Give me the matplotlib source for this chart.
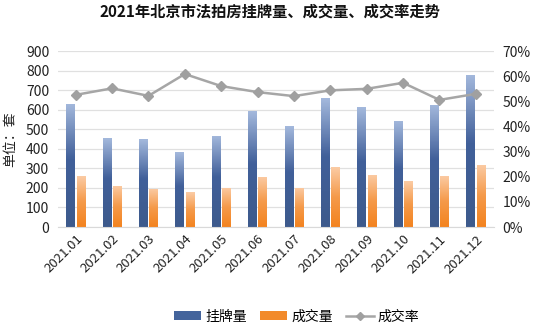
import numpy as np
import matplotlib.pyplot as plt
from matplotlib.colors import LinearSegmentedColormap
from matplotlib.patches import Patch
from matplotlib.lines import Line2D

plt.rcParams['font.family'] = ['Noto Sans CJK SC', 'DejaVu Sans']

months = ['2021.01', '2021.02', '2021.03', '2021.04', '2021.05', '2021.06',
          '2021.07', '2021.08', '2021.09', '2021.10', '2021.11', '2021.12']
listed = [630, 455, 450, 383, 467, 592, 515, 660, 612, 543, 627, 780]
sold = [260, 210, 197, 178, 200, 257, 200, 307, 268, 234, 262, 320]
rate = [0.526, 0.552, 0.522, 0.609, 0.561, 0.537, 0.521, 0.544, 0.550, 0.574, 0.506, 0.530]

blue_cm = LinearSegmentedColormap.from_list('b', [(0, '#3d5a8c'), (0.55, '#41609a'), (1, '#a3b8dc')])
orange_cm = LinearSegmentedColormap.from_list('o', [(0, '#f3831f'), (0.5, '#f59a4a'), (1, '#fbcba4')])

fig = plt.figure(figsize=(5.39, 3.30), dpi=100)
ax = fig.add_axes([0.1067, 0.312, 0.8098, 0.533])
ax2 = ax.twinx()

x = np.arange(len(months))
w = 0.235
grad = np.linspace(0, 1, 100).reshape(-1, 1)


def gradient_bars(xs, vals, cmap):
    bars = ax.bar(xs, vals, w, color='none', edgecolor='none', zorder=2)
    for b in bars:
        x0, y0 = b.get_x(), b.get_y()
        im = ax.imshow(grad, cmap=cmap, origin='lower', aspect='auto',
                       extent=[x0, x0 + b.get_width(), y0, y0 + b.get_height()], zorder=2)
        im.set_clip_path(b)


gradient_bars(x - 0.14, listed, blue_cm)
gradient_bars(x + 0.14, sold, orange_cm)

ax.set_xlim(-0.5, len(months) - 0.5)
ax.set_ylim(0, 900)
ax.set_yticks(range(0, 901, 100))
ax.grid(axis='y', color='#e0e0e0', linewidth=0.9, zorder=0)
ax.set_axisbelow(True)
ax.set_xticks(x)
ax.set_xticklabels(months, rotation=45, ha='right', rotation_mode='anchor', fontsize=9.5, color='#222222')
ax.tick_params(axis='y', labelsize=10, colors='#222222', length=0, pad=6)
ax.tick_params(axis='x', length=0, pad=4)
ax.set_ylabel('单位：套', fontsize=10, color='#222222', labelpad=6)

ax2.plot(x, rate, color='#a6a6a6', linewidth=1.8, marker='D', markersize=5,
         markerfacecolor='#a0a0a0', markeredgecolor='#a0a0a0', zorder=3)
ax2.set_ylim(0, 0.7)
ax2.set_yticks(np.arange(0, 0.71, 0.1))
ax2.set_yticklabels([f'{int(round(v * 100))}%' for v in np.arange(0, 0.71, 0.1)])
ax2.tick_params(axis='y', labelsize=10, colors='#222222', length=0, pad=6)

for a in (ax, ax2):
    for s in a.spines.values():
        s.set_visible(False)
ax.spines['bottom'].set_visible(True)
ax.spines['bottom'].set_color('#d9d9d9')

fig.suptitle('2021年北京市法拍房挂牌量、成交量、成交率走势', fontsize=11,
             fontweight='bold', x=0.5, y=0.99, color='#111111')

handles = [Patch(facecolor='#44649c', edgecolor='none'),
           Patch(facecolor='#f28a2a', edgecolor='none'),
           Line2D([0], [0], color='#a6a6a6', linewidth=1.8, marker='D', markersize=4,
                  markerfacecolor='#a0a0a0', markeredgecolor='#a0a0a0')]
fig.legend(handles, ['挂牌量', '成交量', '成交率'], loc='center', bbox_to_anchor=(0.55, 0.04),
           ncol=3, frameon=False, fontsize=10, handlelength=2.0, handleheight=0.6,
           columnspacing=0.9, handletextpad=0.3)

fig.savefig('out.png', dpi=100, facecolor='white')
